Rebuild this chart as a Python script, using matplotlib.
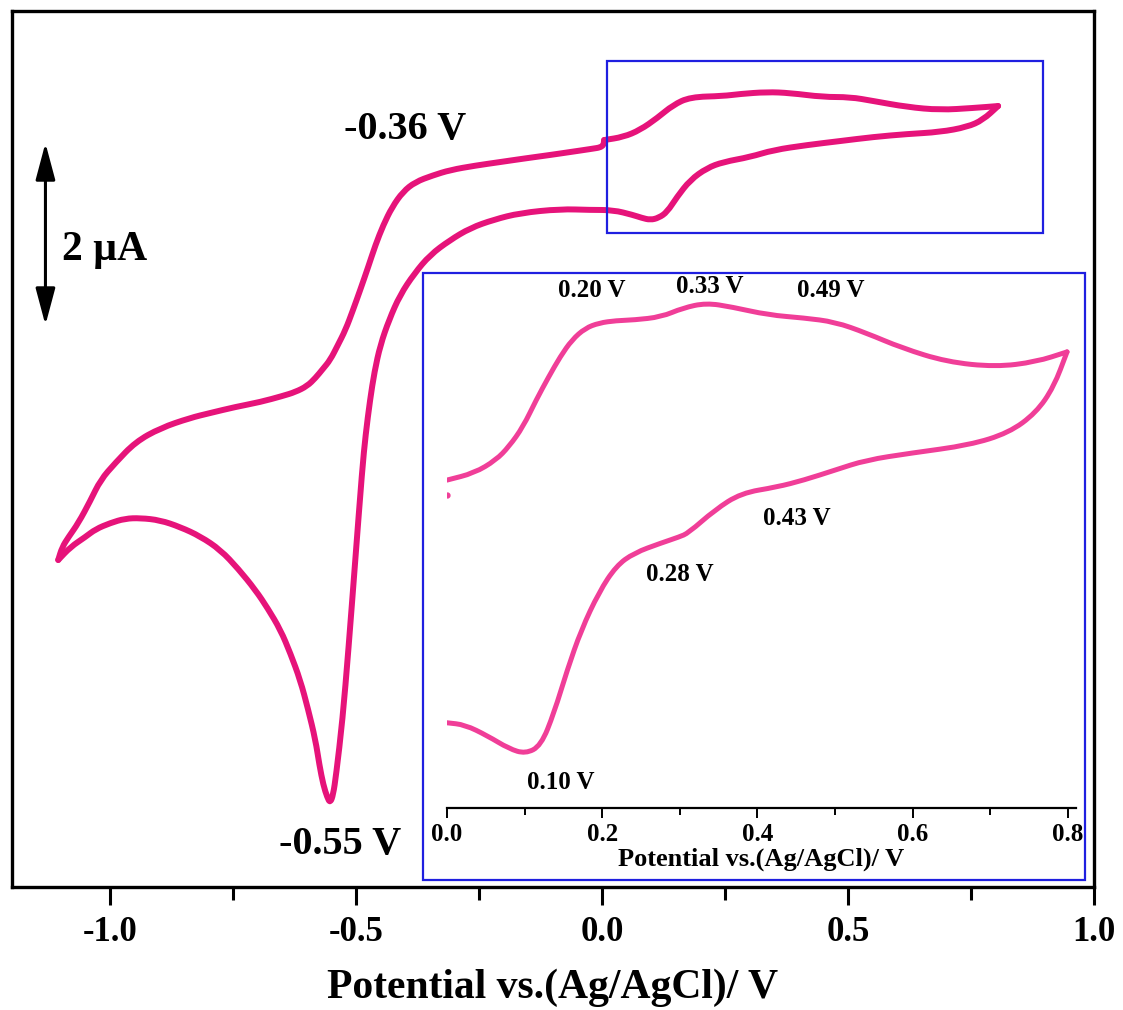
import matplotlib
matplotlib.use('Agg')
import numpy as np
import matplotlib.pyplot as plt
from matplotlib.patches import Rectangle, PathPatch
from matplotlib.path import Path

# main CV loop (potential in V, current in uA)
cv_E = [0.004, 0.043, 0.077, 0.112, 0.144, 0.179, 0.246, 0.280, 0.335, 0.382,
        0.449, 0.504, 0.551, 0.620, 0.687, 0.754, 0.805,
        0.774, 0.742, 0.687, 0.620, 0.551, 0.484, 0.417, 0.348, 0.301, 0.246,
        0.213, 0.179, 0.152, 0.132, 0.115, 0.098, 0.080, 0.063, 0.022, -0.024,
        -0.085, -0.167, -0.220, -0.268, -0.310, -0.350, -0.382, -0.411, -0.433,
        -0.451, -0.463, -0.472, -0.481, -0.488, -0.502, -0.516, -0.528, -0.541,
        -0.547, -0.553, -0.559, -0.567, -0.575, -0.583, -0.598, -0.614, -0.634,
        -0.654, -0.680, -0.705, -0.740, -0.776, -0.817, -0.858, -0.899, -0.939,
        -0.970, -1.000, -1.030, -1.051, -1.081, -1.106,
        -1.098, -1.085, -1.065, -1.041, -1.020, -0.990, -0.949, -0.898, -0.838,
        -0.797, -0.746, -0.695, -0.650, -0.624, -0.600, -0.583, -0.568, -0.553,
        -0.538, -0.522, -0.507, -0.492, -0.476, -0.461, -0.445, -0.427, -0.405,
        -0.380, -0.345, -0.309, -0.258, -0.207, -0.157, -0.106, -0.065, -0.024,
        0.002, 0.004]
cv_I = [3.444, 3.478, 3.556, 3.689, 3.833, 3.922, 3.933, 3.956, 3.978, 3.967,
        3.922, 3.922, 3.878, 3.811, 3.778, 3.800, 3.822,
        3.667, 3.589, 3.533, 3.511, 3.478, 3.433, 3.389, 3.333, 3.256, 3.200,
        3.133, 3.000, 2.811, 2.644, 2.580, 2.556, 2.580, 2.611, 2.667, 2.667,
        2.678, 2.633, 2.560, 2.467, 2.330, 2.167, 1.960, 1.722, 1.450,
        1.167, 0.870, 0.556, 0.170, -0.222, -1.222, -2.222, -3.000, -3.611,
        -3.830, -3.922, -3.860, -3.722, -3.500, -3.222, -2.880, -2.556, -2.260,
        -2.000, -1.760, -1.556, -1.320, -1.111, -0.960, -0.856, -0.780, -0.756,
        -0.762, -0.811, -0.880, -0.967, -1.078, -1.222,
        -1.080, -0.967, -0.811, -0.567, -0.333, -0.144, 0.089, 0.244, 0.356,
        0.411, 0.478, 0.533, 0.600, 0.644, 0.710, 0.800, 0.900, 1.000,
        1.160, 1.333, 1.550, 1.778, 2.030, 2.278, 2.500, 2.700, 2.870,
        2.978, 3.050, 3.111, 3.160, 3.200, 3.240, 3.278, 3.311, 3.344,
        3.367, 3.444]
cv_turns = [16, 78]   # indices of the switching potentials

# inset: 0.0 - 0.8 V window
in_E = [0.000, 0.035, 0.063, 0.080, 0.098, 0.115, 0.131, 0.146, 0.161, 0.178,
        0.196, 0.218, 0.241, 0.276, 0.304, 0.334, 0.367, 0.414, 0.460, 0.500,
        0.540, 0.586, 0.644, 0.707, 0.759, 0.799,
        0.782, 0.759, 0.724, 0.673, 0.598, 0.540, 0.500, 0.460, 0.425, 0.379,
        0.345, 0.311, 0.299, 0.276, 0.241, 0.218, 0.196, 0.173, 0.155, 0.138,
        0.121, 0.101, 0.080, 0.052, 0.023, 0.000]
in_I = [3.369, 3.390, 3.429, 3.470, 3.529, 3.610, 3.679, 3.740, 3.790, 3.825,
        3.841, 3.848, 3.850, 3.859, 3.886, 3.901, 3.889, 3.865, 3.856, 3.844,
        3.811, 3.766, 3.724, 3.709, 3.724, 3.754,
        3.649, 3.571, 3.511, 3.474, 3.450, 3.429, 3.399, 3.369, 3.348, 3.330,
        3.279, 3.210, 3.198, 3.180, 3.150, 3.111, 3.033, 2.919, 2.799, 2.670,
        2.571, 2.547, 2.562, 2.601, 2.634, 2.640]
in_turns = [25]
in_dot = (0.0, 3.324)

main_ticks = [-1.0, -0.5, 0.0, 0.5, 1.0]
main_ticklabels = ["-1.0", "-0.5", "0.0", "0.5", "1.0"]
in_ticks = [0.0, 0.2, 0.4, 0.6, 0.8]
in_ticklabels = ["0.0", "0.2", "0.4", "0.6", "0.8"]

main_peaks = [("-0.36 V", -0.400, 3.556), ("-0.55 V", -0.533, -4.389)]
in_peaks = [("0.20 V", 0.186, 3.937), ("0.33 V", 0.338, 3.949),
            ("0.49 V", 0.495, 3.937), ("0.43 V", 0.451, 3.255),
            ("0.28 V", 0.300, 3.084), ("0.10 V", 0.147, 2.462)]

pink = '#E6137A'
pink2 = '#F03E98'
blue = '#1F1FE0'


def smooth_curve(ax, xs, ys, turns, **kw):
    # draw the read points as a smooth quadratic bezier path, keeping the
    # switching potentials as sharp corners
    cuts = [0] + list(turns) + [len(xs) - 1]
    for a, b in zip(cuts[:-1], cuts[1:]):
        pts = list(zip(xs[a:b + 1], ys[a:b + 1]))
        verts = [pts[0]]
        codes = [Path.MOVETO]
        if len(pts) > 2:
            m = ((pts[0][0] + pts[1][0]) / 2, (pts[0][1] + pts[1][1]) / 2)
            verts.append(m)
            codes.append(Path.LINETO)
            for i in range(1, len(pts) - 1):
                m = ((pts[i][0] + pts[i + 1][0]) / 2, (pts[i][1] + pts[i + 1][1]) / 2)
                verts += [pts[i], m]
                codes += [Path.CURVE3, Path.CURVE3]
        verts.append(pts[-1])
        codes.append(Path.LINETO)
        ax.add_patch(PathPatch(Path(verts, codes), fill=False, capstyle='round',
                               joinstyle='round', **kw))


plt.rcParams['font.family'] = ['Liberation Serif', 'DejaVu Serif']
plt.rcParams['font.weight'] = 'bold'

W, H = 1123, 1010
fig = plt.figure(figsize=(W / 100, H / 100), dpi=100)
ax = fig.add_axes([12 / W, 1 - 887 / H, (1094 - 12) / W, (887 - 11) / H])

smooth_curve(ax, cv_E, cv_I, cv_turns, ec=pink, lw=4.3)
ax.set_xlim(-1.2, 1.0)
ax.set_ylim(-4.856, 4.878)
ax.set_yticks([])
ax.set_xticks(main_ticks)
ax.set_xticklabels(main_ticklabels, fontsize=25, fontweight='bold')
ax.set_xticks([-0.75, -0.25, 0.25, 0.75], minor=True)
ax.tick_params(axis='x', which='major', direction='out', length=13, width=2.2, pad=8)
ax.tick_params(axis='x', which='minor', direction='out', length=9, width=2.2)
for s in ax.spines.values():
    s.set_linewidth(2.4)
ax.set_xlabel('Potential vs.(Ag/AgCl)/ V', fontsize=30, fontweight='bold', labelpad=14)

# scale bar
ax.annotate('', xy=(-1.132, 1.389), xytext=(-1.132, 3.411),
            arrowprops=dict(arrowstyle='<|-|>,head_length=0.75,head_width=0.2',
                            mutation_scale=30, lw=2.2, color='k',
                            shrinkA=0, shrinkB=0))
ax.text(-1.098, 2.222, '2 \u00b5A', fontsize=30, fontweight='bold', ha='left', va='center')

for txt, x, y in main_peaks:
    ax.text(x, y, txt, fontsize=29, fontweight='bold', ha='center', va='center')

ax.add_patch(Rectangle((0.010, 2.411), 0.886, 1.911, fill=False, ec=blue, lw=1.6))

# inset
ins = fig.add_axes([447 / W, 1 - 808 / H, (0.81 * 776) / W, (808 - 280) / H])
ins.patch.set_alpha(0)
smooth_curve(ins, in_E, in_I, in_turns, ec=pink2, lw=3.6)
ins.plot([in_dot[0]], [in_dot[1]], 'o', color=pink2, ms=3.5)
ins.set_xlim(0, 0.81)
ins.set_ylim(2.384, 3.970)
for side in ['left', 'top', 'right']:
    ins.spines[side].set_visible(False)
ins.spines['bottom'].set_linewidth(1.6)
ins.set_yticks([])
ins.set_xticks(in_ticks)
ins.set_xticklabels(in_ticklabels, fontsize=18, fontweight='bold')
ins.set_xticks([0.1, 0.3, 0.5, 0.7], minor=True)
ins.tick_params(axis='x', which='major', direction='out', length=7, width=1.4, pad=4)
ins.tick_params(axis='x', which='minor', direction='out', length=5, width=1.4)
ins.set_xlabel('Potential vs.(Ag/AgCl)/ V', fontsize=19, fontweight='bold', labelpad=1)
for txt, x, y in in_peaks:
    ins.text(x, y, txt, fontsize=18, fontweight='bold', ha='center', va='center')

fig.add_artist(Rectangle((423 / W, 1 - 880 / H), (1085 - 423) / W, (880 - 273) / H,
                         transform=fig.transFigure, fill=False, ec=blue, lw=1.6))

fig.savefig('out.png', dpi=100)
